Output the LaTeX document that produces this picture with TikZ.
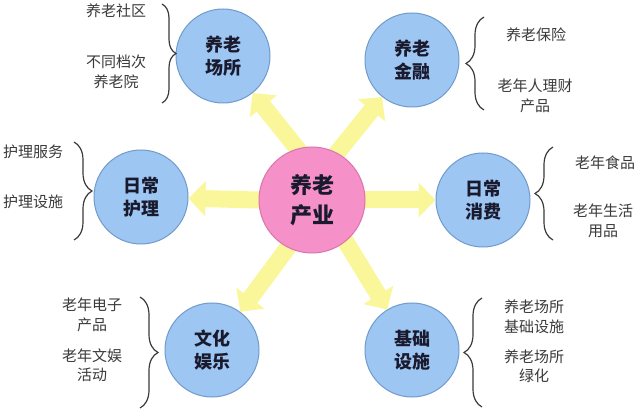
\documentclass[tikz,border=0pt]{standalone}
\usepackage{fontspec}
\setmainfont{Noto Sans CJK SC}
\usepackage{xcolor}
\usepackage{tikz}
\usetikzlibrary{arrows.meta,decorations.pathreplacing,backgrounds}
\definecolor{figBlue}{HTML}{9DC6F2}
\definecolor{figBlueEdge}{HTML}{6F9BCB}
\definecolor{figPink}{HTML}{F590C8}
\definecolor{figPinkEdge}{HTML}{DC74AE}
\definecolor{figYellow}{HTML}{FAF79A}
\definecolor{figGray}{HTML}{3A3A3A}
\definecolor{figInk}{HTML}{1A1A2E}

\begin{document}
\begin{tikzpicture}[
  x=1pt, y=-1pt,
  every node/.style={inner sep=0pt},
  hub/.style={circle, draw=figPinkEdge, fill=figPink, line width=1pt,
    minimum size=106pt, font=\fontsize{22}{30}\selectfont\bfseries,
    text=figInk, align=center},
  topic/.style={circle, draw=figBlueEdge, fill=figBlue, line width=1pt,
    minimum size=94pt, font=\fontsize{18}{23}\selectfont\bfseries,
    text=figInk, align=center},
  item/.style={font=\fontsize{15}{19.5}\selectfont, text=figGray, align=center},
  flow/.style={figYellow, line width=17pt, shorten <=-6pt,
    -{Triangle[width=34pt,length=17pt]}},
  curly/.style={figGray, line width=1.2pt, decorate,
    decoration={brace, amplitude=18pt}},
]
\useasboundingbox (0,0) rectangle (640,414);

% --- Hub and topics ---
\node[hub]   (core)    at (312,200) {养老\\产业};
\node[topic] (place)   at (223,56)  {养老\\场所};
\node[topic] (finance) at (412,60)  {养老\\金融};
\node[topic] (care)    at (141,197) {日常\\护理};
\node[topic] (consume) at (483,200) {日常\\消费};
\node[topic] (culture) at (212,350) {文化\\娱乐};
\node[topic] (infra)   at (412,350) {基础\\设施};

% --- Block arrows (behind) ---
\begin{scope}[on background layer]
  \fill[white] (0,0) rectangle (640,414);
  \draw[flow] (core.106) -- (place);
  \draw[flow] (core.62)  -- (finance);
  \draw[flow] (core.180) -- (care);
  \draw[flow] (core.0)   -- (consume);
  \draw[flow] (core.243) -- (culture);
  \draw[flow] (core.309) -- (infra);
\end{scope}

% --- Sub-items ---
\node[item] (place-a)   at (116,11)  {养老社区};
\node[item] (place-b)   at (116,72)  {不同档次\\养老院};
\node[item] (finance-a) at (536,35)  {养老保险};
\node[item] (finance-b) at (535,96)  {老年人理财\\产品};
\node[item] (care-a)    at (33,152)  {护理服务};
\node[item] (care-b)    at (33,202)  {护理设施};
\node[item] (consume-a) at (605,163) {老年食品};
\node[item] (consume-b) at (603,221) {老年生活\\用品};
\node[item] (culture-a) at (92,315)  {老年电子\\产品};
\node[item] (culture-b) at (92,365)  {老年文娱\\活动};
\node[item] (infra-a)   at (534,317) {养老场所\\基础设施};
\node[item] (infra-b)   at (534,366) {养老场所\\绿化};

% --- Braces ---
\draw[curly, decoration={brace, amplitude=14pt}] (162,4) -- (162,103);
\draw[curly] (484,110) -- (484,17);
\draw[curly] (74,142)  -- (74,240);
\draw[curly] (553,240) -- (553,147);
\draw[curly] (140,297) -- (140,408);
\draw[curly] (482,407) -- (482,298);

\end{tikzpicture}
\end{document}
